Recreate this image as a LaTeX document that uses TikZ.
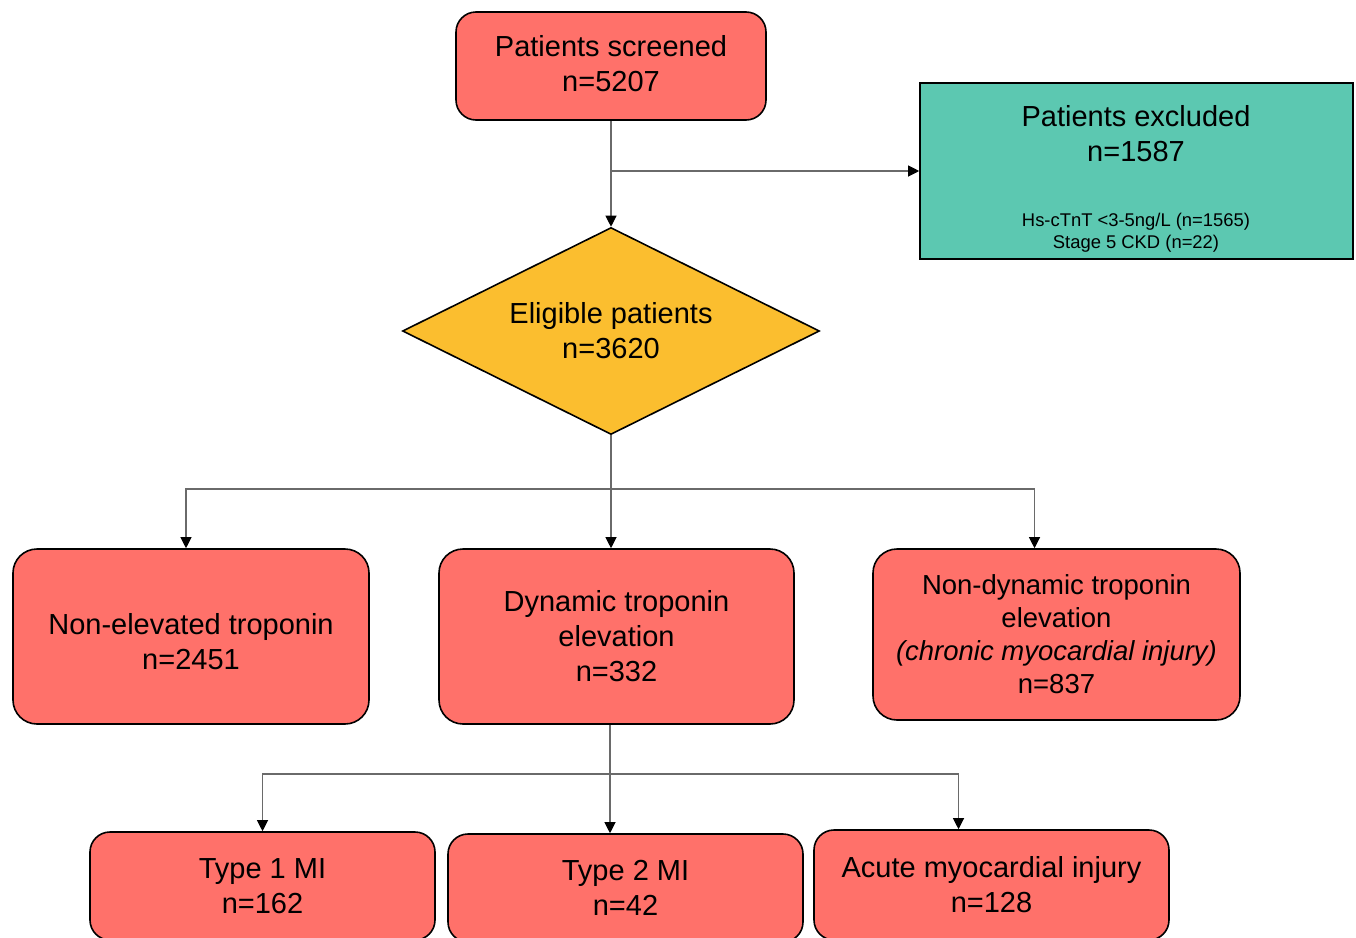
\documentclass[tikz,border=0pt]{standalone}
\usepackage{fontspec}
\setmainfont{Liberation Sans}
\usetikzlibrary{arrows.meta,shapes.geometric}
\definecolor{boxred}{HTML}{FF716A}
\definecolor{boxteal}{HTML}{5CC8B1}
\definecolor{boxgold}{HTML}{FBBE2F}
\definecolor{wiregray}{HTML}{6A6A6A}

\begin{document}
\begin{tikzpicture}[x=1pt,y=-1pt]
    \tikzstyle{every node}=[font=\fontsize{29}{35}\selectfont, align=center, inner sep=0pt]
    \tikzstyle{stage}=[draw, line width=1.6pt, rounded corners=24, fill=boxred]
    \tikzstyle{excl}=[draw, line width=1.6pt, fill=boxteal]
    \tikzstyle{decide}=[diamond, draw, line width=1.6pt, fill=boxgold, aspect=2]
    \tikzstyle{wire}=[line width=1.1pt, wiregray]
    \tikzstyle{arrowwire}=[wire, -{Triangle[width=11pt,length=11pt,color=black]}]

    % frame
    \useasboundingbox (0,0) rectangle (1356,937);
    \clip (0,0) rectangle (1356,937);

    % screening and exclusion
    \node[stage, rounded corners=20, minimum width=310, minimum height=108, text depth=6pt] (screened) at (611,66) {Patients screened\\n=5207};
    \node[excl, minimum width=433, minimum height=176] (excluded) at (1136.5,171) {};
    \node (exctitle) at (1136,134) {Patients excluded\\n=1587};
    \node[font=\fontsize{18.4}{22}\selectfont] (excreason) at (1136,233) {Hs-cTnT <3-5ng/L (n=1565)\\Stage 5 CKD (n=22)};

    % eligible
    \node[decide, minimum width=417, minimum height=207] (eligible) at (611,331) {Eligible patients\\n=3620};

    % troponin groups
    \node[stage, minimum width=356, minimum height=175, text height=67pt] (nonelev) at (191,636.5) {Non-elevated troponin\\n=2451};
    \node[stage, minimum width=355, minimum height=175] (dynamic) at (616.5,636.5) {Dynamic troponin\\elevation\\n=332};
    \node[stage, minimum width=367, minimum height=171, font=\fontsize{27.5}{33}\selectfont] (nondyn) at (1056.5,634.5) {Non-dynamic troponin\\elevation\\\textit{(chronic myocardial injury)}\\n=837};

    % diagnoses
    \node[stage, rounded corners=20, minimum width=345, minimum height=108] (typeone) at (262.5,886) {Type 1 MI\\n=162};
    \node[stage, rounded corners=20, minimum width=355, minimum height=108] (typetwo) at (625.5,888) {Type 2 MI\\n=42};
    \node[stage, rounded corners=20, minimum width=355, minimum height=110] (acute) at (991.5,885) {Acute myocardial injury\\n=128};

    % connecting wires
    \coordinate (exsplit) at (611,171);
    \draw[wire] (screened.south) -- (exsplit);
    \draw[arrowwire] (exsplit) -- (eligible.north);
    \draw[arrowwire] (exsplit) -- (excluded.west);

    \coordinate (forkone) at (611,489);
    \draw[wire] (eligible.south) -- (forkone);
    \draw[arrowwire] (forkone) -| ([xshift=-5pt]nonelev.north);
    \draw[arrowwire] (forkone) -- (forkone |- dynamic.north);
    \draw[arrowwire] (forkone) -| ([xshift=-22pt]nondyn.north);

    \coordinate (forktwo) at (610,774);
    \draw[wire] (forktwo |- dynamic.south) -- (forktwo);
    \draw[arrowwire] (forktwo) -| (typeone.north);
    \draw[arrowwire] (forktwo) -- (forktwo |- typetwo.north);
    \draw[arrowwire] (forktwo) -| ([xshift=-33pt]acute.north);

\end{tikzpicture}
\end{document}
